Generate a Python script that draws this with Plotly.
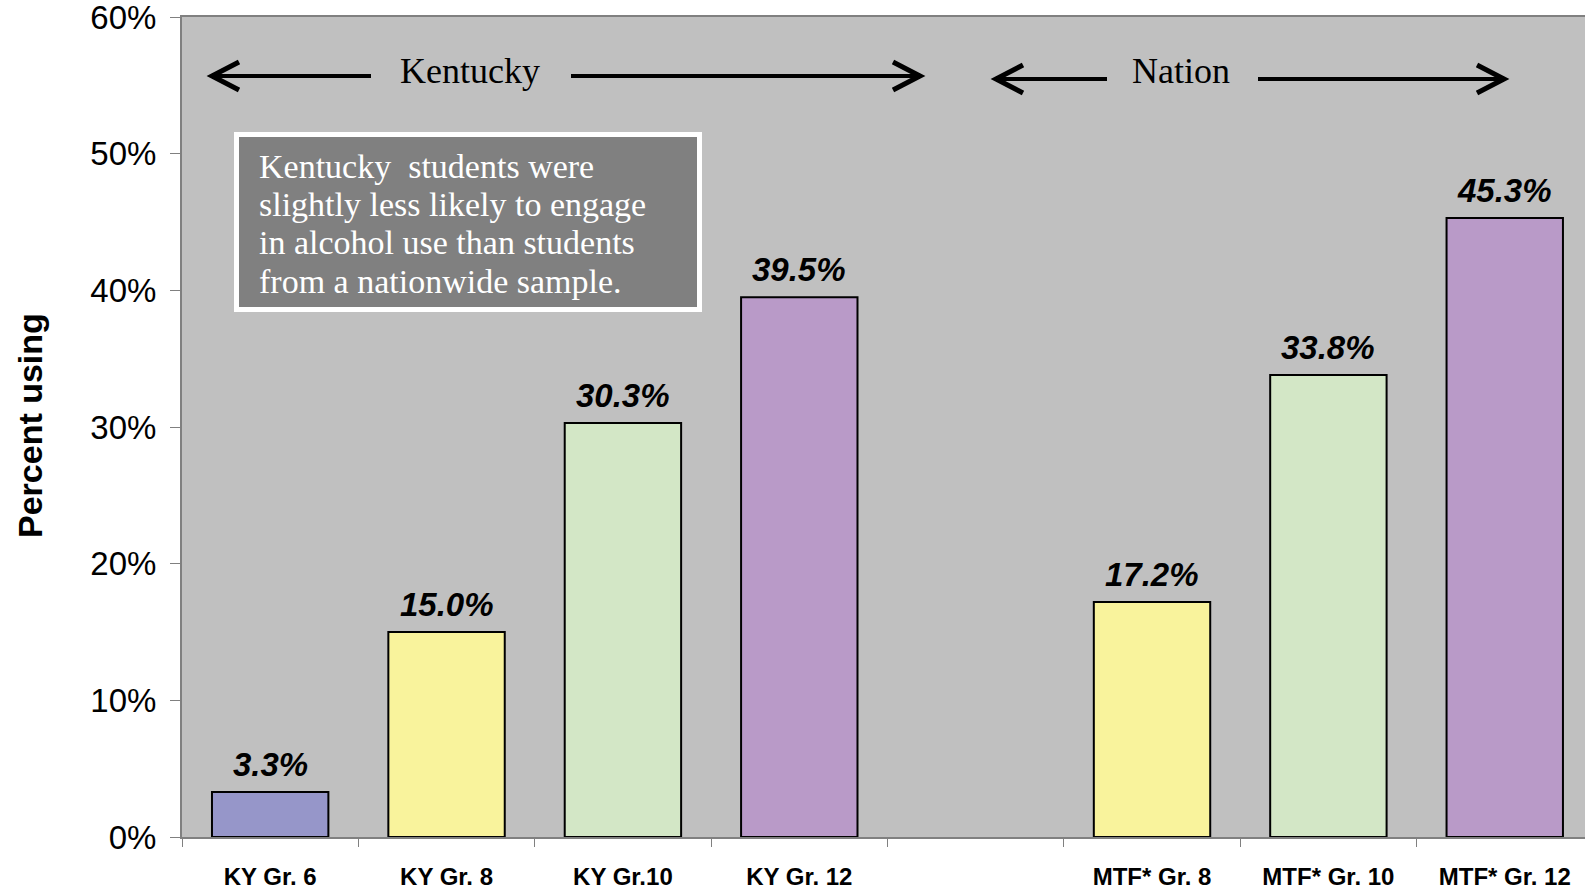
import plotly.graph_objects as go

categories = ["KY Gr. 6", "KY Gr. 8", "KY Gr.10", "KY Gr. 12", " ", "MTF* Gr. 8", "MTF* Gr. 10", "MTF* Gr. 12"]
values = [3.3, 15.0, 30.3, 39.5, None, 17.2, 33.8, 45.3]
bar_colors = ["#9696C9", "#F9F39C", "#D3E7C6", "#B99AC8", "#C0C0C0", "#F9F39C", "#D3E7C6", "#B99AC8"]
y_ticks = [0, 10, 20, 30, 40, 50, 60]
y_tick_labels = ["0%", "10%", "20%", "30%", "40%", "50%", "60%"]
box_lines = ["Kentucky  students were",
             "slightly less likely to engage",
             "in alcohol use than students",
             "from a nationwide sample."]

W, H = 1585, 890
L, T, B = 182, 17, 53
x_range = [-0.5, 7.455]
y_range = [0, 60]
pw = W - L
ph = H - T - B
ux = pw / (x_range[1] - x_range[0])
uy = ph / (y_range[1] - y_range[0])

def xv(px):
    return (px - L) / ux + x_range[0]

def yv(py):
    return (H - B - py) / uy

fig = go.Figure()
fig.add_trace(go.Bar(
    x=categories, y=values,
    marker=dict(color=bar_colors, line=dict(color="black", width=2)),
    width=0.66, hoverinfo="skip",
))

annotations = []
for i, v in enumerate(values):
    if v is None:
        continue
    annotations.append(dict(
        x=i, y=v, xref="x", yref="y", text=f"{v:.1f}%", showarrow=False,
        yanchor="bottom", yshift=7,
        font=dict(family="Liberation Sans, Arial", size=33, color="black", weight="bold", style="italic"),
    ))

# Region headers
hdr_font = dict(family="Liberation Serif, Times New Roman", size=36, color="black")
annotations.append(dict(x=xv(470), y=yv(71), xref="x", yref="y", text="Kentucky",
                        showarrow=False, font=hdr_font))
annotations.append(dict(x=xv(1181), y=yv(71), xref="x", yref="y", text="Nation",
                        showarrow=False, font=hdr_font))

# Text box lines
box_font = dict(family="Liberation Serif, Times New Roman", size=34, color="white")
for k, line in enumerate(box_lines):
    annotations.append(dict(
        x=xv(257), y=yv(166.5 + 38.2 * k), xref="x", yref="y", text=line,
        showarrow=False, xanchor="left", yanchor="middle", font=box_font,
    ))

# Y axis title
annotations.append(dict(
    x=(30 - L) / pw, y=(H - B - 426) / ph, xref="paper", yref="paper",
    text="<b>Percent using</b>", showarrow=False, textangle=-90,
    xanchor="center", yanchor="middle",
    font=dict(family="Liberation Sans, Arial", size=34, color="black"),
))

shapes = [dict(type="rect", xref="x", yref="y",
               x0=xv(236.5), x1=xv(699.5), y0=yv(309.5), y1=yv(134.5),
               fillcolor="#808080", line=dict(color="white", width=5), layer="above")]

# Arrows (tip px, tail px, y px)
arrows = [(212, 371, 76), (920, 571, 76), (996, 1107, 79), (1504, 1258, 79)]
for tip, tail, py in arrows:
    d = 1 if tip > tail else -1
    shapes.append(dict(type="line", xref="x", yref="y",
                       x0=xv(tail), x1=xv(tip - d * 2), y0=yv(py), y1=yv(py),
                       line=dict(color="black", width=4), layer="above"))
    path = (f"M{xv(tip - d * 27)},{yv(py - 14)} "
            f"L{xv(tip)},{yv(py)} "
            f"L{xv(tip - d * 27)},{yv(py + 14)}")
    shapes.append(dict(type="path", xref="x", yref="y", path=path,
                       line=dict(color="black", width=5), layer="above"))

fig.update_layout(
    width=W, height=H,
    margin=dict(l=L, r=0, t=T, b=B, autoexpand=False),
    paper_bgcolor="white", plot_bgcolor="#C0C0C0",
    showlegend=False, annotations=annotations, shapes=shapes,
    xaxis=dict(
        type="category", categoryorder="array", categoryarray=categories,
        range=x_range, tickson="boundaries", automargin=False,
        ticks="outside", ticklen=8, tickcolor="#808080", tickwidth=1,
        showline=True, linecolor="#808080", linewidth=2, mirror=True,
        showgrid=False, zeroline=False, ticklabelstandoff=17,
        ticklabeloverflow="allow",
        tickfont=dict(family="Liberation Sans, Arial", size=24, color="black", weight="bold"),
    ),
    yaxis=dict(
        range=y_range, tickmode="array", tickvals=y_ticks, ticktext=y_tick_labels,
        ticks="outside", ticklen=10, tickcolor="#808080", tickwidth=1, automargin=False,
        showline=True, linecolor="#808080", linewidth=2,
        showgrid=False, zeroline=False, ticklabelstandoff=7,
        ticklabeloverflow="allow",
        tickfont=dict(family="Liberation Sans, Arial", size=33, color="black"),
    ),
)
fig.write_html("out.html", config={"displayModeBar": False},
               post_script="document.body.style.margin='0';document.body.style.padding='0';document.body.style.overflow='hidden';")
